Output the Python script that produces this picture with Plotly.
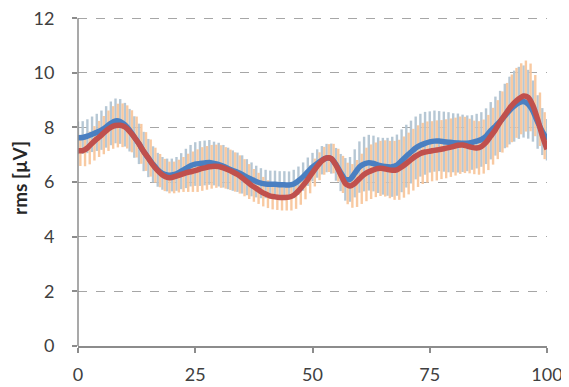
import plotly.graph_objects as go

x_vals = list(range(0, 101))

blue_mean = [
    7.62, 7.63, 7.68, 7.75, 7.82, 7.90, 8.02, 8.15, 8.24, 8.22,
    8.10, 7.90, 7.65, 7.40, 7.12, 6.88, 6.65, 6.45, 6.32, 6.26,
    6.26, 6.30, 6.40, 6.50, 6.60, 6.66, 6.68, 6.70, 6.72, 6.68,
    6.64, 6.58, 6.50, 6.42, 6.36, 6.28, 6.18, 6.10, 6.02, 5.96,
    5.93, 5.92, 5.92, 5.90, 5.90, 5.89, 5.93, 6.05, 6.20, 6.38,
    6.55, 6.68, 6.80, 6.88, 6.86, 6.65, 6.35, 6.10, 6.10, 6.32,
    6.55, 6.66, 6.71, 6.68, 6.62, 6.58, 6.56, 6.56, 6.62, 6.78,
    6.95, 7.10, 7.25, 7.35, 7.42, 7.47, 7.50, 7.50, 7.48, 7.46,
    7.44, 7.43, 7.42, 7.42, 7.45, 7.50, 7.56, 7.68, 7.88, 8.05,
    8.22, 8.42, 8.62, 8.78, 8.90, 8.95, 8.85, 8.60, 8.20, 7.85,
    7.55,
]

red_mean = [
    7.15, 7.15, 7.25, 7.42, 7.58, 7.72, 7.88, 8.00, 8.07, 8.08,
    8.02, 7.86, 7.65, 7.40, 7.12, 6.88, 6.62, 6.42, 6.26, 6.17,
    6.17, 6.22, 6.28, 6.34, 6.38, 6.42, 6.48, 6.52, 6.56, 6.58,
    6.57, 6.52, 6.45, 6.37, 6.28, 6.16, 6.02, 5.88, 5.77, 5.65,
    5.56, 5.49, 5.46, 5.44, 5.44, 5.45, 5.52, 5.68, 5.88, 6.10,
    6.35, 6.58, 6.78, 6.88, 6.86, 6.62, 6.28, 5.95, 5.86, 5.95,
    6.12, 6.28, 6.38, 6.45, 6.50, 6.50, 6.46, 6.43, 6.45, 6.55,
    6.68, 6.82, 6.95, 7.05, 7.10, 7.13, 7.16, 7.19, 7.22, 7.26,
    7.30, 7.35, 7.36, 7.32, 7.27, 7.25, 7.30, 7.45, 7.68, 7.92,
    8.20, 8.45, 8.70, 8.90, 9.05, 9.15, 9.10, 8.80, 8.30, 7.70,
    7.20,
]

blue_sd = [
    0.60, 0.60, 0.62, 0.65, 0.68, 0.72, 0.76, 0.80, 0.82, 0.82,
    0.80, 0.78, 0.76, 0.74, 0.72, 0.70, 0.66, 0.62, 0.60, 0.60,
    0.60, 0.62, 0.66, 0.72, 0.76, 0.80, 0.82, 0.82, 0.82, 0.80,
    0.80, 0.78, 0.76, 0.74, 0.72, 0.70, 0.66, 0.62, 0.58, 0.55,
    0.52, 0.50, 0.50, 0.50, 0.50, 0.50, 0.52, 0.52, 0.52, 0.52,
    0.52, 0.52, 0.52, 0.52, 0.55, 0.60, 0.68, 0.78, 0.82, 0.88,
    0.94, 1.00, 1.02, 1.02, 1.02, 1.04, 1.06, 1.10, 1.12, 1.15,
    1.15, 1.15, 1.15, 1.15, 1.15, 1.12, 1.12, 1.10, 1.10, 1.10,
    1.08, 1.08, 1.05, 1.02, 1.00, 1.00, 1.00, 1.02, 1.05, 1.08,
    1.12, 1.18, 1.24, 1.30, 1.32, 1.32, 1.26, 1.12, 0.98, 0.86,
    0.76,
]

red_sd = [
    0.56, 0.57, 0.60, 0.63, 0.66, 0.70, 0.74, 0.78, 0.80, 0.80,
    0.79, 0.77, 0.75, 0.73, 0.71, 0.68, 0.64, 0.61, 0.59, 0.58,
    0.58, 0.60, 0.64, 0.70, 0.74, 0.78, 0.80, 0.80, 0.80, 0.79,
    0.78, 0.76, 0.74, 0.72, 0.70, 0.68, 0.64, 0.60, 0.57, 0.54,
    0.51, 0.49, 0.48, 0.48, 0.48, 0.49, 0.50, 0.51, 0.51, 0.51,
    0.51, 0.51, 0.51, 0.51, 0.54, 0.60, 0.68, 0.76, 0.80, 0.86,
    0.92, 0.98, 1.00, 1.00, 1.01, 1.03, 1.05, 1.08, 1.10, 1.12,
    1.13, 1.13, 1.13, 1.12, 1.12, 1.10, 1.10, 1.08, 1.08, 1.07,
    1.06, 1.05, 1.03, 1.00, 0.98, 0.98, 0.99, 1.01, 1.04, 1.08,
    1.12, 1.18, 1.24, 1.28, 1.30, 1.30, 1.24, 1.12, 0.98, 0.86,
    0.76,
]

y_ticks = [0, 2, 4, 6, 8, 10, 12]
x_ticks = [0, 25, 50, 75, 100]

BLUE = "#4a7fc1"
RED = "#c0504d"
BLUE_ERR = "rgba(178,196,210,0.95)"
RED_ERR = "rgba(248,198,156,0.95)"

# half-step shift so the two series' whiskers interleave as in the original rendering
half_step = (x_vals[1] - x_vals[0]) / 2
x_red_err = [v + half_step for v in x_vals]

fig = go.Figure()

fig.add_trace(go.Scatter(
    x=x_vals, y=blue_mean, mode="markers",
    marker=dict(size=1, color="rgba(0,0,0,0)"),
    error_y=dict(type="data", array=blue_sd, visible=True,
                 color=BLUE_ERR, thickness=2.4, width=0),
    showlegend=False, hoverinfo="skip",
))
fig.add_trace(go.Scatter(
    x=x_red_err[:-1], y=red_mean[:-1], mode="markers",
    marker=dict(size=1, color="rgba(0,0,0,0)"),
    error_y=dict(type="data", array=red_sd[:-1], visible=True,
                 color=RED_ERR, thickness=2.4, width=0),
    showlegend=False, hoverinfo="skip",
))
fig.add_trace(go.Scatter(
    x=x_vals, y=blue_mean, mode="lines",
    line=dict(color=BLUE, width=5.5, shape="spline", smoothing=0.6),
    showlegend=False,
))
fig.add_trace(go.Scatter(
    x=x_vals, y=red_mean, mode="lines",
    line=dict(color=RED, width=5.5, shape="spline", smoothing=0.6),
    showlegend=False,
))

# y-axis line should stop at 12 like the original
fig.add_shape(type="line", xref="paper", yref="y", x0=0, x1=0, y0=0, y1=y_ticks[-1],
              line=dict(color="#8c8c8c", width=1.5), layer="above")

fig.update_layout(
    width=561, height=379,
    margin=dict(l=70, r=22, t=2, b=41, autoexpand=False),
    paper_bgcolor="white", plot_bgcolor="white",
    font=dict(family="Lato, 'Open Sans', sans-serif", size=18, color="#404040"),
    xaxis=dict(
        range=[0, 100], tickvals=x_ticks, ticktext=[str(t) for t in x_ticks],
        showgrid=False, zeroline=False,
        showline=True, linecolor="#8c8c8c", linewidth=1.5,
        ticks="outside", ticklen=5, tickcolor="#8c8c8c", tickwidth=1.5,
        tickfont=dict(size=18, color="#404040"), ticklabelstandoff=7,
        ticklabeloverflow="allow", automargin=False,
    ),
    yaxis=dict(
        range=[0, 12.3], tickvals=y_ticks, ticktext=[str(t) for t in y_ticks],
        showgrid=True, gridcolor="#a6a6a6", griddash="dash", gridwidth=1,
        zeroline=False,
        showline=False,
        ticks="outside", ticklen=5, tickcolor="#8c8c8c", tickwidth=1.5,
        tickfont=dict(size=18, color="#404040"), ticklabelstandoff=14,
        ticklabeloverflow="allow",
        title=dict(text="<b>rms [µV]</b>", font=dict(size=19, color="#262626"), standoff=10),
        automargin=False,
    ),
)

fig.write_html("out.html")
